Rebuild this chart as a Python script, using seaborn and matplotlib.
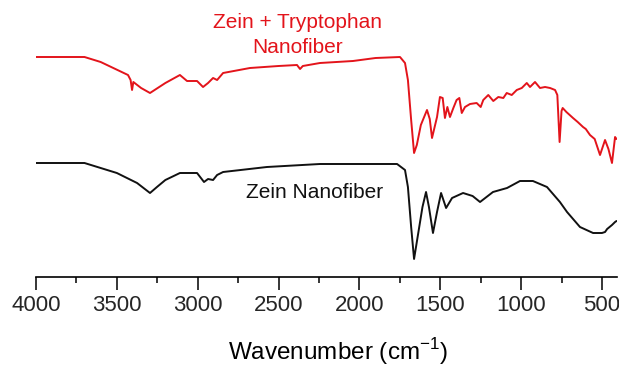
import matplotlib
matplotlib.use("Agg")
import matplotlib.pyplot as plt
import seaborn as sns
import numpy as np
import pandas as pd
from matplotlib.ticker import MultipleLocator

# Offset FTIR spectra (arbitrary transmittance units)
red_wn = [4000, 3700, 3600, 3431, 3415, 3406, 3398, 3350, 3295, 3200, 3110, 3066,
          3004, 2967, 2936, 2905, 2880, 2843, 2677, 2500, 2386, 2367, 2350, 2244,
          2040, 1900, 1749, 1718, 1700, 1680, 1662, 1645, 1620, 1582, 1565, 1551,
          1520, 1502, 1485, 1471, 1456, 1440, 1419, 1399, 1382, 1367, 1347, 1316,
          1275, 1250, 1234, 1203, 1172, 1141, 1110, 1089, 1058, 1027, 996, 965,
          945, 914, 883, 852, 821, 790, 776, 762, 750, 743, 720, 679, 650, 617,
          600, 574, 545, 512, 481, 460, 438, 419, 410]
red_t = [220, 220, 215, 202, 197, 187, 195, 189, 184, 194, 202, 196,
         196, 190, 194, 199, 197, 204, 209, 211, 212, 208, 211, 214,
         216, 219, 220, 214, 197, 157, 124, 132, 152, 167, 158, 139,
         160, 180, 179, 159, 170, 160, 169, 177, 179, 164, 170, 173,
         174, 170, 177, 182, 176, 180, 179, 184, 182, 187, 189, 194,
         190, 195, 189, 190, 189, 187, 182, 135, 166, 169, 165, 159, 155, 150,
         148, 142, 138, 122, 137, 128, 114, 140, 138]

blk_wn = [4000, 3700, 3500, 3375, 3295, 3252, 3200, 3110, 3004, 2961, 2936, 2905,
          2880, 2843, 2572, 2244, 1767, 1718, 1700, 1680, 1662, 1640, 1610, 1588,
          1570, 1545, 1520, 1495, 1464, 1427, 1359, 1300, 1254, 1174, 1087, 1007,
          927, 840, 760, 716, 636, 555, 500, 481, 468, 438, 419, 410]
blk_t = [114, 114, 104, 94, 84, 90, 97, 104, 104, 95, 98, 97,
         102, 105, 110, 113, 113, 107, 90, 50, 18, 40, 70, 85,
         70, 44, 65, 84, 69, 79, 84, 81, 75, 85, 89, 96,
         96, 90, 75, 65, 50, 44, 44, 45, 48, 52, 55, 56]

red_label = ["Zein + Tryptophan", "Nanofiber"]
blk_label = "Zein Nanofiber"
x_ticks = [4000, 3500, 3000, 2500, 2000, 1500, 1000, 500]

sns.set_theme(style="white")
plt.rcParams["font.family"] = ["Liberation Sans", "DejaVu Sans"]
plt.rcParams["mathtext.fontset"] = "custom"
plt.rcParams["mathtext.rm"] = "Liberation Sans"
plt.rcParams["axes.unicode_minus"] = False

fig = plt.figure(figsize=(6.19, 3.70), dpi=100)
ax = fig.add_axes([36 / 619, 93 / 370, 581 / 619, 277 / 370])

red_df = pd.DataFrame({"wn": red_wn, "t": red_t})
blk_df = pd.DataFrame({"wn": blk_wn, "t": blk_t})
sns.lineplot(data=red_df, x="wn", y="t", color="#e3141b", lw=1.4, ax=ax,
             estimator=None, sort=False)
sns.lineplot(data=blk_df, x="wn", y="t", color="#111111", lw=1.4, ax=ax,
             estimator=None, sort=False)

ax.set_xlim(4000, 407)
ax.set_ylim(0, 277)
for s in ["top", "right", "left"]:
    ax.spines[s].set_visible(False)
ax.spines["bottom"].set_color("black")
ax.spines["bottom"].set_linewidth(1.2)
ax.set_yticks([])
ax.set_xticks(x_ticks)
ax.set_xticklabels([str(v) for v in x_ticks])
ax.xaxis.set_minor_locator(MultipleLocator(250))
ax.tick_params(axis="x", which="major", direction="out", length=9, width=1.1,
               color="black", labelsize=16, pad=4, bottom=True)
ax.tick_params(axis="x", which="minor", direction="out", length=4.5, width=1.1,
               color="black", bottom=True)
ax.set_xlabel("")
ax.set_ylabel("")

ax.text(2380, 249, red_label[0], color="#e3141b", fontsize=15, ha="center", va="baseline")
ax.text(2380, 224, red_label[1], color="#e3141b", fontsize=15, ha="center", va="baseline")
ax.text(2275, 79, blk_label, color="#111111", fontsize=15, ha="center", va="baseline")

fig.text(338 / 619, 10 / 370, r"Wavenumber (cm$^{-1}$)", fontsize=17.5,
         ha="center", va="baseline", color="black")

fig.savefig("out.png", dpi=100, facecolor="white")
